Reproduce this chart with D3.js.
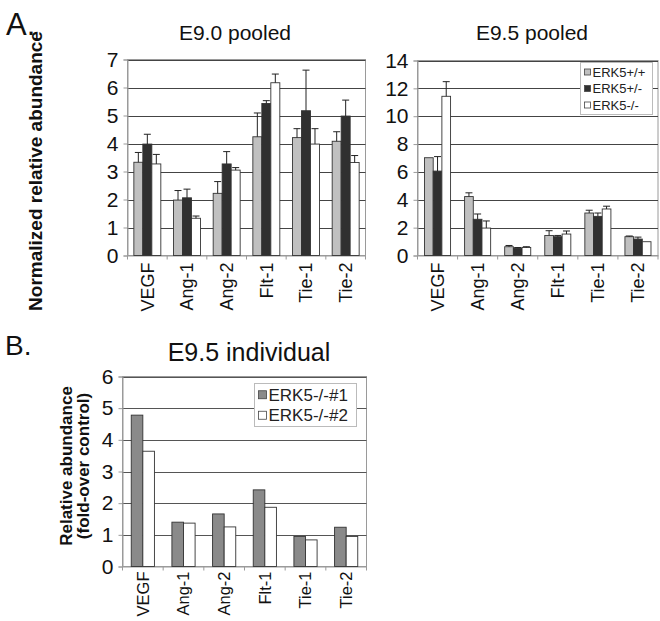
<!DOCTYPE html>
<html><head><meta charset="utf-8">
<script src="https://cdn.jsdelivr.net/npm/d3@7"></script>
<style>body{margin:0;background:#fff}svg{display:block;font-family:"Liberation Sans",Arial,sans-serif}</style>
</head><body>
<svg id="c" width="660" height="621"></svg>
<script>
const FONT = "'Liberation Sans', Arial, sans-serif";
const genes = ["VEGF","Ang-1","Ang-2","Flt-1","Tie-1","Tie-2"];
const genotypes = ["ERK5+/+","ERK5+/-","ERK5-/-"];
// E9.0 pooled: means and upper error sizes
const e90WT  = [3.33,1.98,2.22,4.24,4.21,4.08];
const e90Het = [3.98,2.06,3.27,5.43,5.17,4.98];
const e90KO  = [3.27,1.33,3.05,6.17,3.98,3.32];
const e90WTerr  = [0.35,0.34,0.42,0.85,0.32,0.34];
const e90Heterr = [0.35,0.31,0.44,0.10,1.45,0.57];
const e90KOerr  = [0.34,0.08,0.09,0.31,0.55,0.25];
// E9.5 pooled
const e95WT  = [7.02,4.23,0.63,1.44,3.05,1.35];
const e95Het = [6.06,2.60,0.53,1.35,2.81,1.18];
const e95KO  = [11.43,1.97,0.58,1.54,3.34,0.99];
const e95WTerr  = [0.0,0.27,0.09,0.34,0.20,0.05];
const e95Heterr = [1.04,0.38,0.04,0.09,0.24,0.14];
const e95KOerr  = [1.05,0.51,0.05,0.22,0.20,0.0];
// E9.5 individual
const indiv = ["ERK5-/-#1","ERK5-/-#2"];
const ind1 = [4.78,1.40,1.66,2.42,0.95,1.24];
const ind2 = [3.64,1.37,1.25,1.87,0.84,0.95];

const svg = d3.select("#c");

function panel(o){
  const g = svg.append("g");
  const x = d3.scaleBand().domain(genes).range([o.x0,o.x1]).paddingInner(o.pin).paddingOuter(o.pin/2);
  const xs = d3.scaleBand().domain(o.series.map((s,i)=>i)).range([0,x.bandwidth()]);
  const y = d3.scaleLinear().domain([0,o.max]).range([o.y1,o.y0]);
  g.append("rect").attr("x",o.x0).attr("y",o.y0).attr("width",o.x1-o.x0).attr("height",o.y1-o.y0)
    .attr("fill","none").attr("stroke","#9a9a9a").attr("stroke-width",1);
  g.append("g").selectAll("line").data(y.ticks(o.nt).filter(d=>d>0)).join("line")
    .attr("x1",o.x0).attr("x2",o.x1).attr("y1",d=>Math.round(y(d))+0.5).attr("y2",d=>Math.round(y(d))+0.5)
    .attr("stroke",o.grid).attr("stroke-width",1.2);
  const ya = g.append("g").attr("transform",`translate(${o.x0},0)`)
    .call(d3.axisLeft(y).ticks(o.nt).tickSize(4).tickPadding(5));
  ya.select(".domain").attr("stroke","#9a9a9a");
  ya.selectAll(".tick line").attr("stroke","#9a9a9a");
  ya.selectAll("text").attr("font-size",o.yfs).attr("fill","#111").attr("font-family",FONT);
  const xa = g.append("g").attr("transform",`translate(0,${o.y1})`)
    .call(d3.axisBottom(x).tickSize(0));
  xa.select(".domain").attr("stroke","#9a9a9a");
  xa.selectAll("text").attr("font-size",o.xfs).attr("fill","#111").attr("font-family",FONT)
    .attr("transform","rotate(-90)").attr("text-anchor","end").attr("dx",0).attr("dy","0.35em").attr("x",-o.xoff).attr("y",0);
  g.append("g").selectAll("line").data(d3.range(genes.length+1)).join("line")
    .attr("x1",i=>o.x0+i*(o.x1-o.x0)/genes.length).attr("x2",i=>o.x0+i*(o.x1-o.x0)/genes.length)
    .attr("y1",o.y1).attr("y2",o.y1+4).attr("stroke","#9a9a9a");
  o.series.forEach((s,si)=>{
    g.append("g").selectAll("rect").data(s.vals).join("rect")
      .attr("x",(d,i)=>x(genes[i])+xs(si)).attr("width",xs.bandwidth())
      .attr("y",d=>y(d)).attr("height",d=>o.y1-y(d))
      .attr("fill",s.color).attr("stroke","#333").attr("stroke-width",0.9);
    if(s.err){
      const eg = g.append("g").attr("stroke","#222").attr("stroke-width",1);
      s.vals.forEach((d,i)=>{
        const e = s.err[i]; if(!e) return;
        const cx = x(genes[i])+xs(si)+xs.bandwidth()/2;
        eg.append("line").attr("x1",cx).attr("x2",cx).attr("y1",y(d)).attr("y2",y(d+e));
        eg.append("line").attr("x1",cx-3.5).attr("x2",cx+3.5).attr("y1",y(d+e)).attr("y2",y(d+e));
      });
    }
  });
  g.append("text").attr("x",o.tx).attr("y",o.ty).attr("text-anchor","middle").attr("font-family",FONT)
    .attr("font-size",o.tfs).attr("fill","#111").text(o.title);
  return {g,x,y};
}

panel({x0:127.5,x1:365.5,y0:59.5,y1:255.5,max:7,nt:7,pin:0.32,grid:"#444",
  yfs:21,xfs:18,xoff:7,title:"E9.0 pooled",tx:235,ty:40,tfs:21,
  series:[{vals:e90WT,err:e90WTerr,color:"#c0c0c0"},{vals:e90Het,err:e90Heterr,color:"#303030"},{vals:e90KO,err:e90KOerr,color:"#ffffff"}]});
panel({x0:417.5,x1:658,y0:60.5,y1:255.5,max:14,nt:7,pin:0.35,grid:"#444",
  yfs:21,xfs:18,xoff:7,title:"E9.5 pooled",tx:532,ty:40,tfs:21,
  series:[{vals:e95WT,err:e95WTerr,color:"#c0c0c0"},{vals:e95Het,err:e95Heterr,color:"#303030"},{vals:e95KO,err:e95KOerr,color:"#ffffff"}]});
panel({x0:122.5,x1:366.5,y0:376.5,y1:566.5,max:6,nt:6,pin:0.43,grid:"#555",
  yfs:21,xfs:16.5,xoff:5,title:"E9.5 individual",tx:249,ty:361,tfs:25,
  series:[{vals:ind1,color:"#8a8a8a"},{vals:ind2,color:"#ffffff"}]});

function legend(x0,y0,w,h,items,colors,fs,step,sq){
  const lg = svg.append("g");
  lg.append("rect").attr("x",x0).attr("y",y0).attr("width",w).attr("height",h).attr("fill","#fff").attr("stroke","#bbb");
  items.forEach((t,i)=>{
    const cy = y0+step*(i+0.5)+(h-step*items.length)/2;
    lg.append("rect").attr("x",x0+4).attr("y",cy-sq/2).attr("width",sq).attr("height",sq).attr("fill",colors[i]).attr("stroke","#444").attr("stroke-width",0.8);
    lg.append("text").attr("x",x0+6+sq).attr("y",cy).attr("dy","0.36em").attr("font-size",fs).attr("font-family",FONT).attr("fill","#222").text(t);
  });
}
legend(580.5,62.5,72,52,genotypes,["#c0c0c0","#303030","#ffffff"],13,16.5,6);
legend(254.5,383.5,102,43,indiv,["#8a8a8a","#ffffff"],17,20.5,8);

svg.append("text").attr("transform","translate(42,171) rotate(-90)").attr("text-anchor","middle").attr("font-family",FONT)
  .attr("font-size",19).attr("font-weight","bold").attr("fill","#111").text("Normalized relative abundance");
const yb = svg.append("text").attr("transform","translate(0,466) rotate(-90)").attr("text-anchor","middle").attr("font-family",FONT)
  .attr("font-size",17).attr("font-weight","bold").attr("fill","#111");
yb.append("tspan").attr("x",0).attr("y",71.5).text("Relative abundance");
yb.append("tspan").attr("x",0).attr("y",88.5).text("(fold-over control)");

svg.append("text").attr("x",6).attr("y",35).attr("font-size",31).attr("font-family",FONT).attr("fill","#111").text("A.");
svg.append("text").attr("x",5).attr("y",355).attr("font-size",28).attr("font-family",FONT).attr("fill","#111").text("B.");
</script>
</body></html>
